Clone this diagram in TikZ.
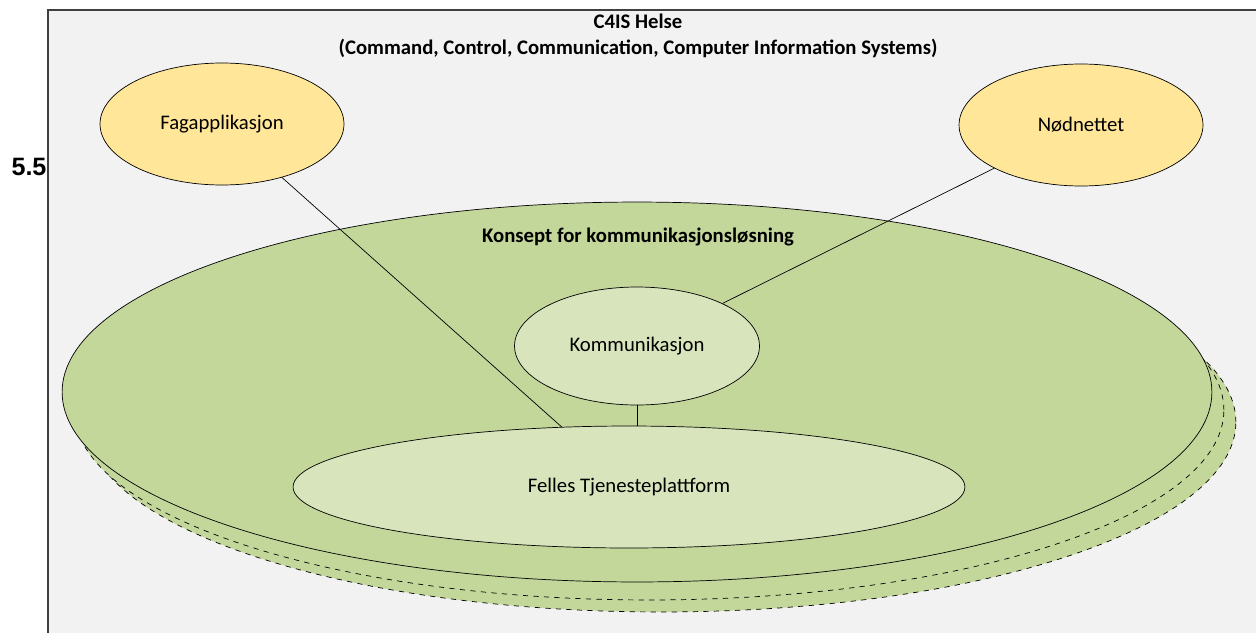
\documentclass[tikz,border=0pt]{standalone}
\usepackage{fontspec}
\setmainfont{Carlito}
\newfontfamily\arialfont{Liberation Sans}
\usetikzlibrary{shapes.geometric}
\definecolor{panel}{RGB}{242,242,242}
\definecolor{frame}{RGB}{64,64,64}
\definecolor{yellow}{RGB}{255,230,153}
\definecolor{olive}{RGB}{196,215,155}
\definecolor{lightolive}{RGB}{216,228,188}

\begin{document}
\begin{tikzpicture}[x=0.02cm, y=-0.02cm,
    every node/.style={font=\fontsize{11.8}{14}\selectfont},
    blob/.style={ellipse, draw, inner sep=0pt},
    layer/.style={blob, fill=olive, minimum width=23cm, minimum height=7.6cm}]
    \useasboundingbox (0,0) rectangle (1256,632);

    % Draw background panel
    \draw[frame, fill=panel, line width=0.8pt] (48,10) rectangle (1262,640);
    \node (title) at (638,36) [align=center, font=\fontsize{11.8}{14.8}\selectfont\bfseries]
        {C4IS Helse\\(Command, Control, Communication, Computer Information Systems)};
    \node (num) at (29,167) [font=\arialfont\fontsize{14.3}{16}\selectfont\bfseries] {5.5};

    % Draw the stacked concept layers
    \node (layerC) at (661,422) [layer, dashed] {};
    \node (layerB) at (649,410) [layer, dashed] {};
    \node (layerA) at (637,392) [layer] {};
    \node (konsept) at (638,237) [font=\fontsize{11.8}{14}\selectfont\bfseries] {Konsept for kommunikasjonsløsning};

    % Draw the inner ellipses
    \node (komm) at (637,346) [blob, fill=lightolive, minimum width=4.9cm, minimum height=2.36cm] {Kommunikasjon};
    \node (felles) at (629,487) [blob, fill=lightolive, minimum width=13.44cm, minimum height=2.44cm] {Felles Tjenesteplattform};

    % Draw the outer ellipses
    \node (fag) at (222,124) [blob, fill=yellow, minimum width=4.88cm, minimum height=2.44cm] {Fagapplikasjon};
    \node (nod) at (1081,125) [blob, fill=yellow, minimum width=4.88cm, minimum height=2.44cm] {Nødnettet};

    % Draw connections
    \draw (fag) -- (felles);
    \draw (nod) -- (komm);
    \draw (komm.south) -- (komm.south |- felles.north);
\end{tikzpicture}
\end{document}
